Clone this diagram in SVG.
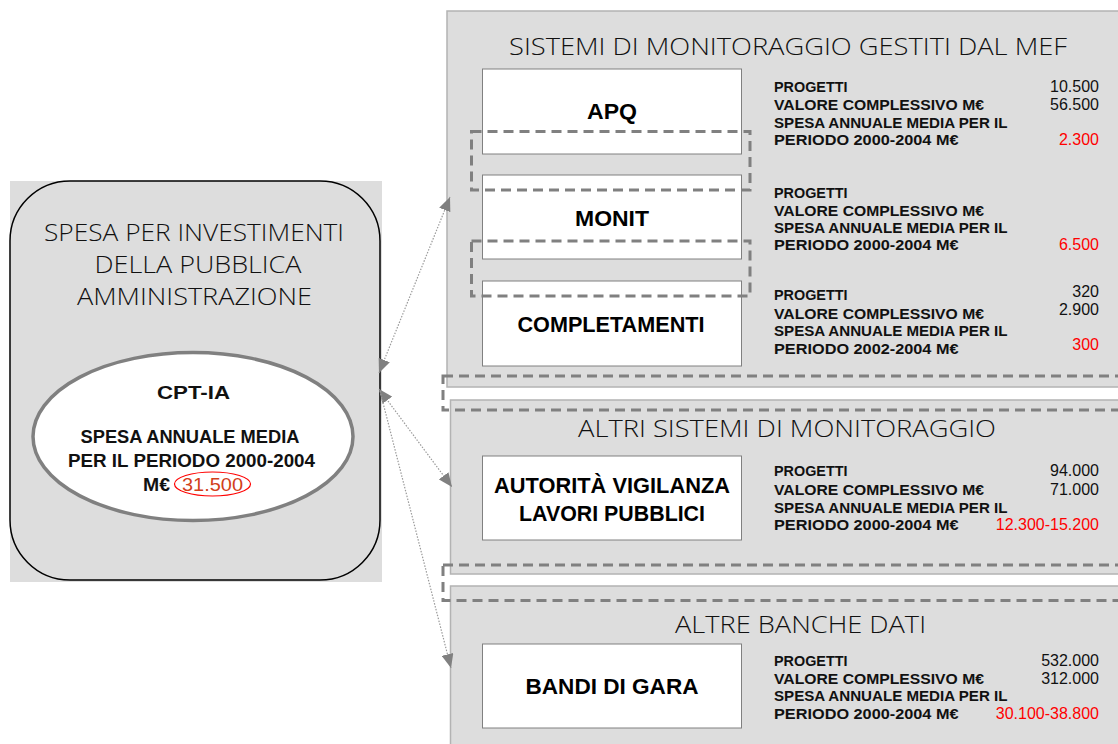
<svg xmlns="http://www.w3.org/2000/svg" width="1118" height="744" viewBox="0 0 1118 744">
<defs>
<style>
.panel{fill:#DDDDDD;stroke:#B3B3B3;stroke-width:1.5}
.box{fill:#FFFFFF;stroke:#808080;stroke-width:1}
.dash{fill:none;stroke:#808080;stroke-width:3;stroke-dasharray:10 6}
.conn{fill:none;stroke:#9A9A9A;stroke-width:1.2;stroke-dasharray:1.5 1.5}
.title{font-family:"Open Sans","Liberation Sans",sans-serif;font-weight:300;font-size:24px;fill:#111;text-anchor:middle}
.boxt{font-family:"Liberation Sans",Arial,sans-serif;font-weight:bold;font-size:21.5px;fill:#000;text-anchor:middle}
.st{font-family:"Liberation Sans",Arial,sans-serif;font-weight:bold;font-size:15px;fill:#111}
.num{font-family:"Liberation Sans",Arial,sans-serif;font-size:16px;fill:#111;text-anchor:end}
.red{fill:#FF0000}
.ell{font-family:"Liberation Sans",Arial,sans-serif;font-weight:bold;font-size:18px;fill:#111;text-anchor:middle}
</style>
<marker id="arr" viewBox="0 0 14 12" refX="14" refY="6" markerWidth="14" markerHeight="12" markerUnits="userSpaceOnUse" orient="auto-start-reverse">
<path d="M0,0 L14,6 L0,12 z" fill="#808080"/>
</marker>
</defs>

<g id="spesa-pa">
<rect x="10" y="181" width="372" height="401" fill="#DDDDDD"/>
<rect x="10" y="181" width="370" height="399" rx="60" ry="60" fill="#DDDDDD" stroke="#000" stroke-width="1.5"/>
<text class="title" x="194" y="241" textLength="300" lengthAdjust="spacingAndGlyphs">SPESA PER INVESTIMENTI</text>
<text class="title" x="198" y="273" textLength="207" lengthAdjust="spacingAndGlyphs">DELLA PUBBLICA</text>
<text class="title" x="194.5" y="305" textLength="235" lengthAdjust="spacingAndGlyphs">AMMINISTRAZIONE</text>
</g>

<g id="cpt-ia">
<ellipse cx="193" cy="436.5" rx="160" ry="84" fill="#FFFFFF" stroke="#808080" stroke-width="3.5"/>
<text class="ell" x="193.5" y="399" font-size="22" textLength="73" lengthAdjust="spacingAndGlyphs">CPT-IA</text>
<text class="ell" x="190" y="443" textLength="219" lengthAdjust="spacingAndGlyphs">SPESA ANNUALE MEDIA</text>
<text class="ell" x="191.5" y="467" textLength="247" lengthAdjust="spacingAndGlyphs">PER IL PERIODO 2000-2004</text>
<text class="ell" x="156.5" y="491" textLength="27" lengthAdjust="spacingAndGlyphs">M€</text>
<ellipse cx="212.5" cy="484" rx="38" ry="12" fill="none" stroke="#FF0000" stroke-width="1.2"/>
<text x="212.5" y="491" font-family="Liberation Sans, Arial, sans-serif" font-size="19" fill="#D2401A" text-anchor="middle" textLength="61" lengthAdjust="spacingAndGlyphs">31.500</text>
</g>

<g id="panel-mef">
<rect class="panel" x="447" y="11" width="700" height="376"/>
<text class="title" x="788" y="55" textLength="558" lengthAdjust="spacingAndGlyphs">SISTEMI DI MONITORAGGIO GESTITI DAL MEF</text>
</g>
<g id="panel-altri">
<rect class="panel" x="450.5" y="400" width="700" height="174"/>
<text class="title" x="787" y="437" textLength="418" lengthAdjust="spacingAndGlyphs">ALTRI SISTEMI DI MONITORAGGIO</text>
</g>
<g id="panel-banche">
<rect class="panel" x="450.5" y="586" width="700" height="170"/>
<text class="title" x="800.5" y="633" textLength="251" lengthAdjust="spacingAndGlyphs">ALTRE BANCHE DATI</text>
</g>

<g id="apq">
<rect class="box" x="482.5" y="69" width="259" height="85"/>
<text class="boxt" x="612" y="119" textLength="50" lengthAdjust="spacingAndGlyphs">APQ</text>
<text class="st" x="774" y="92" textLength="73.5" lengthAdjust="spacingAndGlyphs">PROGETTI</text>
<text class="st" x="774" y="110" textLength="210" lengthAdjust="spacingAndGlyphs">VALORE COMPLESSIVO M€</text>
<text class="st" x="774" y="127.5" textLength="233.5" lengthAdjust="spacingAndGlyphs">SPESA ANNUALE MEDIA PER IL</text>
<text class="st" x="774" y="144.5" textLength="184.5" lengthAdjust="spacingAndGlyphs">PERIODO 2000-2004 M€</text>
<text class="num" x="1099" y="92">10.500</text>
<text class="num" x="1099" y="110">56.500</text>
<text class="num red" x="1099" y="144.5">2.300</text>
</g>

<g id="monit">
<rect class="box" x="482.5" y="175" width="259" height="84"/>
<text class="boxt" x="612" y="226" textLength="74" lengthAdjust="spacingAndGlyphs">MONIT</text>
<text class="st" x="774" y="197.5" textLength="73.5" lengthAdjust="spacingAndGlyphs">PROGETTI</text>
<text class="st" x="774" y="215.5" textLength="210" lengthAdjust="spacingAndGlyphs">VALORE COMPLESSIVO M€</text>
<text class="st" x="774" y="233" textLength="233.5" lengthAdjust="spacingAndGlyphs">SPESA ANNUALE MEDIA PER IL</text>
<text class="st" x="774" y="250" textLength="184.5" lengthAdjust="spacingAndGlyphs">PERIODO 2000-2004 M€</text>
<text class="num red" x="1099" y="250">6.500</text>
</g>

<g id="completamenti">
<rect class="box" x="482.5" y="281" width="259" height="85"/>
<text class="boxt" x="611" y="332" textLength="187" lengthAdjust="spacingAndGlyphs">COMPLETAMENTI</text>
<text class="st" x="774" y="300" textLength="73.5" lengthAdjust="spacingAndGlyphs">PROGETTI</text>
<text class="st" x="774" y="318.5" textLength="210" lengthAdjust="spacingAndGlyphs">VALORE COMPLESSIVO M€</text>
<text class="st" x="774" y="336" textLength="233.5" lengthAdjust="spacingAndGlyphs">SPESA ANNUALE MEDIA PER IL</text>
<text class="st" x="774" y="354" textLength="184.5" lengthAdjust="spacingAndGlyphs">PERIODO 2002-2004 M€</text>
<text class="num" x="1099" y="297">320</text>
<text class="num" x="1099" y="315">2.900</text>
<text class="num red" x="1099" y="350">300</text>
</g>

<g id="autorita">
<rect class="box" x="482.5" y="456" width="259" height="84"/>
<text class="boxt" x="612" y="493" textLength="236" lengthAdjust="spacingAndGlyphs">AUTORITÀ VIGILANZA</text>
<text class="boxt" x="612" y="521" textLength="186" lengthAdjust="spacingAndGlyphs">LAVORI PUBBLICI</text>
<text class="st" x="774" y="476" textLength="73.5" lengthAdjust="spacingAndGlyphs">PROGETTI</text>
<text class="st" x="774" y="495" textLength="210" lengthAdjust="spacingAndGlyphs">VALORE COMPLESSIVO M€</text>
<text class="st" x="774" y="512.5" textLength="233.5" lengthAdjust="spacingAndGlyphs">SPESA ANNUALE MEDIA PER IL</text>
<text class="st" x="774" y="529.5" textLength="184.5" lengthAdjust="spacingAndGlyphs">PERIODO 2000-2004 M€</text>
<text class="num" x="1099" y="476">94.000</text>
<text class="num" x="1099" y="495">71.000</text>
<text class="num red" x="1099" y="529.5">12.300-15.200</text>
</g>

<g id="bandi">
<rect class="box" x="482.5" y="644" width="259" height="84"/>
<text class="boxt" x="612" y="694" textLength="173" lengthAdjust="spacingAndGlyphs">BANDI DI GARA</text>
<text class="st" x="774" y="666" textLength="73.5" lengthAdjust="spacingAndGlyphs">PROGETTI</text>
<text class="st" x="774" y="684" textLength="210" lengthAdjust="spacingAndGlyphs">VALORE COMPLESSIVO M€</text>
<text class="st" x="774" y="701" textLength="233.5" lengthAdjust="spacingAndGlyphs">SPESA ANNUALE MEDIA PER IL</text>
<text class="st" x="774" y="718.5" textLength="184.5" lengthAdjust="spacingAndGlyphs">PERIODO 2000-2004 M€</text>
<text class="num" x="1099" y="666">532.000</text>
<text class="num" x="1099" y="684">312.000</text>
<text class="num red" x="1099" y="718.5">30.100-38.800</text>
</g>

<g id="groupings">
<rect class="dash" x="471.5" y="131.5" width="278.5" height="58.5"/>
<rect class="dash" x="471.5" y="241" width="278.5" height="55"/>
<rect class="dash" x="443" y="376" width="690" height="34"/>
<rect class="dash" x="443" y="565" width="690" height="35.5"/>
</g>

<g id="connectors">
<line class="conn" x1="379" y1="373" x2="450" y2="197" marker-start="url(#arr)" marker-end="url(#arr)"/>
<line class="conn" x1="379" y1="389" x2="452" y2="487" marker-start="url(#arr)" marker-end="url(#arr)"/>
<line class="conn" x1="380" y1="391" x2="451" y2="668" marker-end="url(#arr)"/>
</g>
</svg>
